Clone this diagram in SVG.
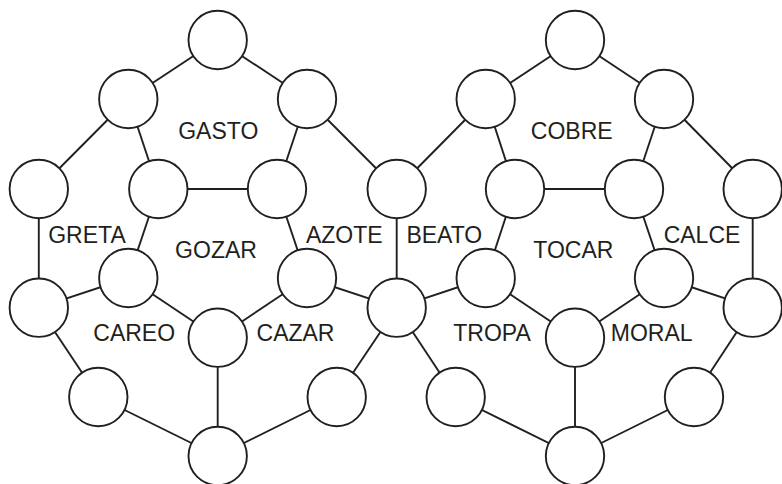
<svg xmlns="http://www.w3.org/2000/svg" width="782" height="484" viewBox="0 0 782 484">
<style>
.e{stroke:#231f20;stroke-width:1.9;fill:none}
.n circle{fill:#fff;stroke:#231f20;stroke-width:1.9}
.t{font-family:"Liberation Sans",Arial,sans-serif;font-size:23px;fill:#231f20;text-anchor:middle}
</style>
<rect width="782" height="484" fill="#fff"/>
<g id="connectors" class="e">
<line x1="217.7" y1="40" x2="128.3" y2="99"/>
<line x1="217.7" y1="40" x2="307" y2="99"/>
<line x1="128.3" y1="99" x2="38.8" y2="189"/>
<line x1="128.3" y1="99" x2="158.3" y2="189"/>
<line x1="307" y1="99" x2="277" y2="189"/>
<line x1="307" y1="99" x2="396.7" y2="189"/>
<line x1="158.3" y1="189" x2="277" y2="189"/>
<line x1="38.8" y1="189" x2="38.8" y2="307.7"/>
<line x1="158.3" y1="189" x2="128.3" y2="278"/>
<line x1="277" y1="189" x2="307" y2="278"/>
<line x1="396.7" y1="189" x2="396.7" y2="307.7"/>
<line x1="38.8" y1="307.7" x2="128.3" y2="278"/>
<line x1="128.3" y1="278" x2="217.7" y2="337.7"/>
<line x1="307" y1="278" x2="217.7" y2="337.7"/>
<line x1="307" y1="278" x2="396.7" y2="307.7"/>
<line x1="38.8" y1="307.7" x2="98.3" y2="397"/>
<line x1="396.7" y1="307.7" x2="336.7" y2="397"/>
<line x1="217.7" y1="337.7" x2="217.7" y2="456"/>
<line x1="98.3" y1="397" x2="217.7" y2="456"/>
<line x1="336.7" y1="397" x2="217.7" y2="456"/>
<line x1="575" y1="40" x2="485.7" y2="99"/>
<line x1="575" y1="40" x2="664" y2="99"/>
<line x1="485.7" y1="99" x2="396.7" y2="189"/>
<line x1="485.7" y1="99" x2="515" y2="189"/>
<line x1="664" y1="99" x2="634" y2="189"/>
<line x1="664" y1="99" x2="752.7" y2="189"/>
<line x1="515" y1="189" x2="634" y2="189"/>
<line x1="752.7" y1="189" x2="752.7" y2="307.7"/>
<line x1="515" y1="189" x2="485.7" y2="278"/>
<line x1="634" y1="189" x2="664" y2="278"/>
<line x1="396.7" y1="307.7" x2="485.7" y2="278"/>
<line x1="485.7" y1="278" x2="575" y2="337.7"/>
<line x1="664" y1="278" x2="575" y2="337.7"/>
<line x1="664" y1="278" x2="752.7" y2="307.7"/>
<line x1="396.7" y1="307.7" x2="455.7" y2="397"/>
<line x1="752.7" y1="307.7" x2="694" y2="397"/>
<line x1="575" y1="337.7" x2="575" y2="456"/>
<line x1="455.7" y1="397" x2="575" y2="456"/>
<line x1="694" y1="397" x2="575" y2="456"/>
</g>
<g class="n">
<g id="n1"><circle cx="217.7" cy="40" r="29.2"/></g>
<g id="n2"><circle cx="128.3" cy="99" r="29.2"/></g>
<g id="n3"><circle cx="307" cy="99" r="29.2"/></g>
<g id="n4"><circle cx="38.8" cy="189" r="29.2"/></g>
<g id="n5"><circle cx="158.3" cy="189" r="29.2"/></g>
<g id="n6"><circle cx="277" cy="189" r="29.2"/></g>
<g id="n7"><circle cx="396.7" cy="189" r="29.2"/></g>
<g id="n8"><circle cx="128.3" cy="278" r="29.2"/></g>
<g id="n9"><circle cx="307" cy="278" r="29.2"/></g>
<g id="n10"><circle cx="38.8" cy="307.7" r="29.2"/></g>
<g id="n11"><circle cx="396.7" cy="307.7" r="29.2"/></g>
<g id="n12"><circle cx="217.7" cy="337.7" r="29.2"/></g>
<g id="n13"><circle cx="98.3" cy="397" r="29.2"/></g>
<g id="n14"><circle cx="336.7" cy="397" r="29.2"/></g>
<g id="n15"><circle cx="217.7" cy="456" r="29.2"/></g>
<g id="n16"><circle cx="575" cy="40" r="29.2"/></g>
<g id="n17"><circle cx="485.7" cy="99" r="29.2"/></g>
<g id="n18"><circle cx="664" cy="99" r="29.2"/></g>
<g id="n19"><circle cx="515" cy="189" r="29.2"/></g>
<g id="n20"><circle cx="634" cy="189" r="29.2"/></g>
<g id="n21"><circle cx="752.7" cy="189" r="29.2"/></g>
<g id="n22"><circle cx="485.7" cy="278" r="29.2"/></g>
<g id="n23"><circle cx="664" cy="278" r="29.2"/></g>
<g id="n24"><circle cx="752.7" cy="307.7" r="29.2"/></g>
<g id="n25"><circle cx="575" cy="337.7" r="29.2"/></g>
<g id="n26"><circle cx="455.7" cy="397" r="29.2"/></g>
<g id="n27"><circle cx="694" cy="397" r="29.2"/></g>
<g id="n28"><circle cx="575" cy="456" r="29.2"/></g>
</g>
<g id="labels" class="t">
<text x="218.3" y="138.5">GASTO</text>
<text x="571.7" y="138.5">COBRE</text>
<text x="87" y="242.7">GRETA</text>
<text x="344.3" y="242.7">AZOTE</text>
<text x="444.3" y="242.7">BEATO</text>
<text x="702" y="242.7">CALCE</text>
<text x="216" y="258">GOZAR</text>
<text x="573.3" y="258">TOCAR</text>
<text x="134.2" y="340.7">CAREO</text>
<text x="295.5" y="340.7">CAZAR</text>
<text x="492" y="340.7">TROPA</text>
<text x="651.7" y="340.7">MORAL</text>
</g>
</svg>
